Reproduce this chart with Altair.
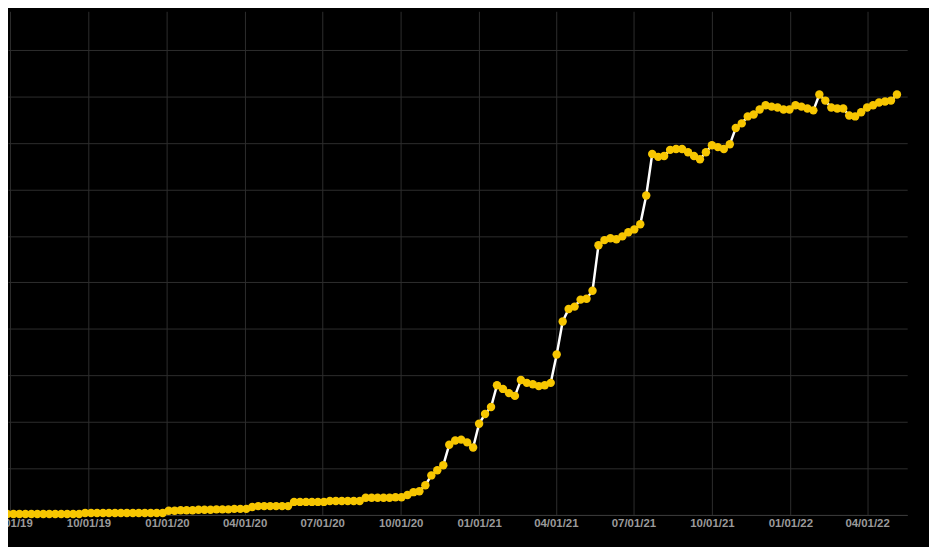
import altair as alt
import pandas as pd

# weekly observations
start_date = "2019-06-28"
values = [
    0.02, 0.02, 0.02, 0.02, 0.02, 0.02, 0.02, 0.02, 0.02, 0.02, 0.02, 0.02, 0.02,
    0.04, 0.04, 0.04, 0.04, 0.04, 0.04, 0.04, 0.04, 0.04, 0.04, 0.04, 0.04, 0.04, 0.04,
    0.09, 0.09, 0.10, 0.10, 0.10, 0.11, 0.11, 0.11, 0.12, 0.12, 0.12, 0.13, 0.13, 0.13,
    0.17, 0.19, 0.19, 0.19, 0.19, 0.19, 0.19,
    0.28, 0.28, 0.28, 0.28, 0.28, 0.28,
    0.30, 0.30, 0.30, 0.30, 0.30, 0.30,
    0.37, 0.37, 0.37, 0.37, 0.37, 0.38, 0.38,
    0.43,
    0.49, 0.51, 0.64, 0.85, 0.96, 1.07, 1.51, 1.60, 1.62, 1.56,
    1.45, 1.96, 2.17, 2.32, 2.79, 2.71, 2.62, 2.56, 2.90, 2.84,
    2.81, 2.77, 2.79, 2.84, 3.45, 4.16, 4.43, 4.48, 4.63, 4.65,
    4.82, 5.80, 5.91, 5.95, 5.93, 5.99, 6.08, 6.14, 6.25, 6.87,
    7.76, 7.70, 7.72, 7.85, 7.87, 7.87, 7.80, 7.72, 7.65, 7.80,
    7.95, 7.91, 7.87, 7.97, 8.32, 8.42, 8.57, 8.61, 8.72, 8.81,
    8.78, 8.76, 8.72, 8.72, 8.81, 8.78, 8.74, 8.70, 9.04, 8.91,
    8.76, 8.74, 8.74, 8.59, 8.57, 8.66, 8.76, 8.81, 8.87, 8.89,
    8.91, 9.04,
]
dates = pd.date_range(start_date, periods=len(values), freq="7D").strftime("%Y-%m-%d").tolist()

tick_dates = [
    (2019, 7), (2019, 10), (2020, 1), (2020, 4), (2020, 7), (2020, 10),
    (2021, 1), (2021, 4), (2021, 7), (2021, 10), (2022, 1), (2022, 4),
]
y_ticks = [0, 1, 2, 3, 4, 5, 6, 7, 8, 9, 10]

df = pd.DataFrame({"date": dates, "value": values})

x_enc = alt.X(
    "date:T",
    scale=alt.Scale(
        type="utc",
        domain=[
            alt.DateTime(year=2019, month=6, date=28, hours=14, utc=True),
            alt.DateTime(year=2022, month=5, date=18, utc=True),
        ],
    ),
    axis=alt.Axis(
        title=None,
        values=[alt.DateTime(year=y, month=m, date=1, utc=True) for y, m in tick_dates],
        format="%m/%d/%y",
        grid=True,
        gridColor="#2e2e2e",
        gridWidth=1,
        ticks=False,
        domain=True,
        domainColor="#3a3a3a",
        labelColor="#9a9a9a",
        labelFont="Liberation Sans",
        labelFontSize=11.5,
        labelFontWeight="bold",
        labelPadding=3,
        labelOverlap=False,
        labelFlush=False,
    ),
)
y_enc = alt.Y(
    "value:Q",
    scale=alt.Scale(domain=[0, 10.83], nice=False, zero=True),
    axis=alt.Axis(
        title=None,
        values=y_ticks,
        labels=False,
        ticks=False,
        domain=False,
        grid=True,
        gridColor="#2e2e2e",
        gridWidth=1,
    ),
)

base = alt.Chart(df)
line = base.mark_line(color="#ffffff", strokeWidth=2.5).encode(x=x_enc, y=y_enc)
pts = base.mark_circle(color="#f7c600", size=72, opacity=1).encode(x=x_enc, y=y_enc)

chart = (
    alt.layer(line, pts)
    .properties(
        width=907,
        height=508,
        background="#000000",
        autosize=alt.AutoSizeParams(type="none"),
        padding={"left": 0, "top": 1, "right": 22, "bottom": 30},
    )
    .configure_view(stroke=None, fill="#000000")
)

chart.save("out.html", embed_options={"renderer": "svg", "actions": False})
